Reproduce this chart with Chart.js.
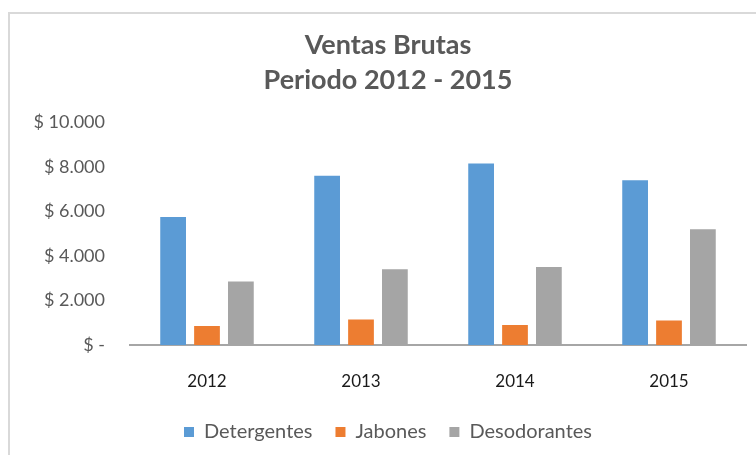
<!DOCTYPE html>
<html>
<head>
<meta charset="utf-8">
<script src="https://cdn.jsdelivr.net/npm/chart.js@4"></script>
<style>
  html, body { margin: 0; padding: 0; background: #fff; }
  #wrap { position: relative; width: 756px; height: 455px; }
  #frame { position: absolute; left: 8px; top: 12px; width: 760px; height: 460px;
           border-left: 2px solid #d9d9d9; border-top: 2px solid #d9d9d9; box-sizing: border-box; }
  canvas { position: absolute; left: 0; top: 0; }
</style>
</head>
<body>
<div id="wrap">
  <div id="frame"></div>
  <canvas id="c" width="756" height="455"></canvas>
</div>
<script>
const categories = ['2012', '2013', '2014', '2015'];
const detergentes = [5750, 7600, 8150, 7400];
const jabones = [850, 1150, 900, 1100];
const desodorantes = [2850, 3400, 3500, 5200];
const seriesNames = ['Detergentes', 'Jabones', 'Desodorantes'];
const titleLines = ['Ventas Brutas', 'Periodo 2012 - 2015'];

function fmt(v) {
  if (v === 0) return '$ -';
  return '$ ' + v.toString().replace(/\B(?=(\d{3})+(?!\d))/g, '.');
}

const FONT = 'Lato, "Open Sans", sans-serif';

new Chart(document.getElementById('c'), {
  type: 'bar',
  data: {
    labels: categories,
    datasets: [
      { label: seriesNames[0], data: detergentes, backgroundColor: '#5b9bd5' },
      { label: seriesNames[1], data: jabones, backgroundColor: '#ed7d31' },
      { label: seriesNames[2], data: desodorantes, backgroundColor: '#a5a5a5' }
    ]
  },
  options: {
    responsive: false,
    animation: false,
    layout: { padding: { left: 30, right: 10, top: 0, bottom: 3 } },
    datasets: { bar: { categoryPercentage: 0.66, barPercentage: 0.76 } },
    scales: {
      x: {
        grid: { display: false, drawTicks: false },
        border: { display: true, color: '#a6a6a6', width: 2 },
        ticks: { color: '#1a1a1a', font: { family: FONT, size: 17 }, padding: 26 },
        afterFit: (s) => { s.height = 54; }
      },
      y: {
        min: 0, max: 10000,
        grid: { display: false, drawTicks: false },
        border: { display: false },
        ticks: { stepSize: 2000, color: '#595959', font: { family: FONT, size: 18 }, padding: 25,
                 callback: (v) => fmt(v) },
        afterFit: (s) => { s.width = 100; }
      }
    },
    plugins: {
      title: {
        display: true,
        text: titleLines,
        color: '#595959',
        font: { family: FONT, size: 27, weight: 'bold', lineHeight: 1.3 },
        padding: { top: 28, bottom: 24 }
      },
      legend: {
        position: 'bottom',
        labels: { boxWidth: 10, boxHeight: 10, color: '#595959', padding: 23,
                  font: { family: FONT, size: 20 } }
      },
      tooltip: { enabled: false }
    }
  }
});
</script>
</body>
</html>
